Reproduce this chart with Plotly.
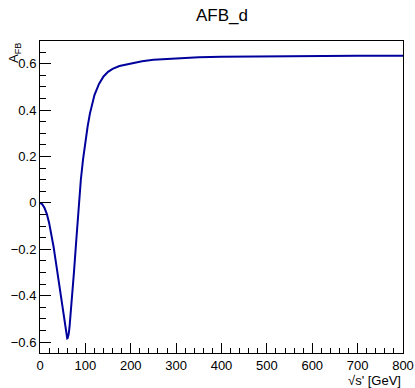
import plotly.graph_objects as go

title_text = "AFB_d"
x_title = "√s' [GeV]"
y_title = "A<sub>FB</sub>"

sqrt_s = [0, 5, 10, 15, 20, 25, 30, 35, 40, 45, 50, 55, 57, 59, 60, 61, 63, 65, 70, 75, 80,
          85, 90, 95, 100, 105, 110, 115, 120, 130, 140, 150, 160, 175, 200, 225,
          250, 300, 350, 400, 500, 600, 700, 800]
afb = [0.0, -0.006, -0.022, -0.047, -0.085, -0.132, -0.19, -0.255, -0.325, -0.395,
       -0.465, -0.53, -0.557, -0.578, -0.584, -0.583, -0.568, -0.537, -0.43, -0.295, -0.16,
       -0.025, 0.10, 0.19, 0.27, 0.33, 0.385, 0.43, 0.465, 0.513, 0.545, 0.565,
       0.578, 0.59, 0.601, 0.611, 0.617, 0.624, 0.628, 0.63, 0.632, 0.633, 0.634, 0.634]

fig = go.Figure()
fig.add_trace(go.Scatter(x=sqrt_s, y=afb, mode="lines",
                         line=dict(color="#00009c", width=2), showlegend=False))

font_family = "Liberation Sans, Arial, sans-serif"
fig.update_layout(
    template="none",
    width=415, height=388,
    margin=dict(l=40, r=12, t=41, b=35, autoexpand=False),
    paper_bgcolor="white", plot_bgcolor="white",
    font=dict(family=font_family, size=13, color="black"),
    title=dict(text=title_text, x=0.535, xanchor="center", y=1 - 15 / 388,
               yanchor="middle", yref="container", automargin=False,
               font=dict(family=font_family, size=17, color="black")),
    xaxis=dict(range=[0, 800], showgrid=False, zeroline=False, automargin=False,
               showline=True, linecolor="black", linewidth=1, mirror=True,
               ticks="inside", ticklen=10, tickwidth=1, tickcolor="black",
               dtick=100, tick0=0,
               minor=dict(ticks="inside", ticklen=5, dtick=20, tickcolor="black", showgrid=False),
               tickfont=dict(size=13)),
    yaxis=dict(range=[-0.647, 0.698], showgrid=False, zeroline=False, automargin=False,
               showline=True, linecolor="black", linewidth=1, mirror=True,
               ticks="inside", ticklen=11, tickwidth=1, tickcolor="black",
               dtick=0.2, tick0=0,
               minor=dict(ticks="inside", ticklen=6, dtick=0.05, tickcolor="black", showgrid=False),
               tickfont=dict(size=13)),
    annotations=[
        dict(text=x_title, xref="paper", yref="paper", x=1, y=0,
             xanchor="right", yanchor="middle", yshift=-27, showarrow=False,
             font=dict(size=13)),
        dict(text=y_title, xref="paper", yref="paper", x=0, y=1,
             xanchor="center", yanchor="top", xshift=-26, showarrow=False,
             textangle=-90, font=dict(size=13)),
    ],
)

fig.write_html("out.html", config={"displayModeBar": False},
               post_script="document.body.style.margin='0';document.body.style.overflow='hidden';")
